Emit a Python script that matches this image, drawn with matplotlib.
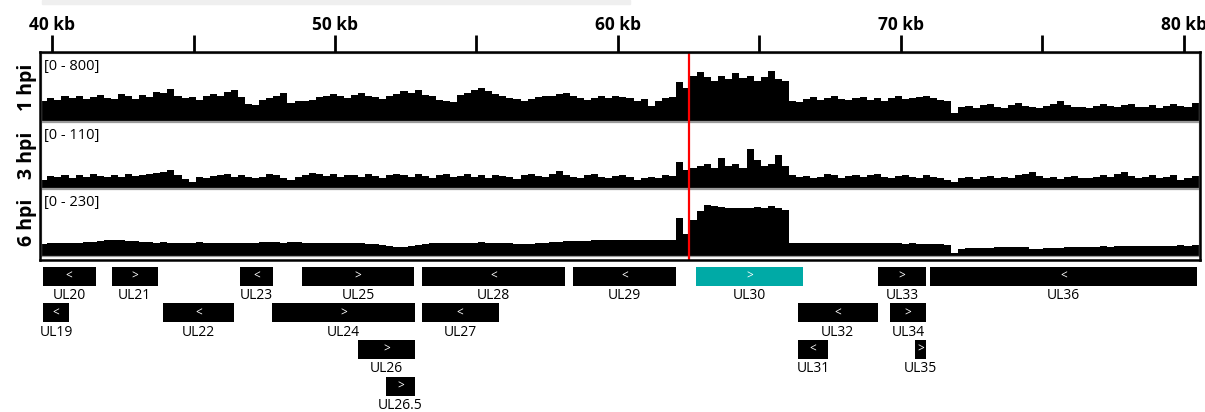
import matplotlib
matplotlib.use("Agg")
import matplotlib.pyplot as plt
from matplotlib.patches import Rectangle
import numpy as np

plt.rcParams['font.family'] = ['Open Sans', 'DejaVu Sans']

# ---- coverage tracks (0.25 kb bins starting at 39.55 kb) ----
bin_start = 39.55
bin_width = 0.25

cov_1hpi = [
    240, 265, 250, 290, 275, 300, 260, 285, 310, 270,
    255, 320, 295, 260, 305, 280, 340, 330, 380, 290,
    265, 280, 250, 300, 315, 290, 345, 360, 280, 200,
    190, 250, 275, 300, 330, 215, 230, 235, 245, 280,
    300, 320, 290, 270, 310, 335, 300, 280, 260, 300,
    320, 355, 330, 360, 310, 290, 250, 235, 220, 310,
    330, 370, 385, 350, 320, 300, 275, 255, 240, 260,
    280, 300, 290, 315, 330, 300, 270, 250, 265, 290,
    275, 300, 285, 265, 240, 260, 175, 240, 270, 285,
    460, 390, 530,
    575, 520, 470, 530, 495, 565, 505, 530, 470, 520, 590, 495, 470,
    240, 225, 260, 280, 250, 270, 295, 260, 245, 270, 285, 250,
    265, 240, 275, 290, 255, 265, 280, 300, 270, 250, 240,
    90,
    160, 175, 150, 185, 200, 170, 155, 190, 210, 180, 165, 150,
    175, 195, 230, 185, 160, 170, 150, 180, 200, 175, 165, 190,
    205, 170, 160, 185, 150, 175, 195, 180, 170, 210,
]

cov_3hpi = [
    14, 20, 18, 22, 17, 21, 19, 23, 20, 18,
    22, 19, 24, 20, 21, 23, 25, 27, 30, 21,
    15, 10, 18, 17, 20, 22, 24, 19, 21, 18,
    16, 19, 23, 21, 17, 14, 19, 22, 25, 23,
    20, 24, 19, 22, 21, 18, 23, 20, 17, 22,
    24, 21, 19, 23, 20, 16, 22, 24, 18, 20,
    23, 19, 21, 17, 22, 20, 18, 15, 21, 24,
    20, 18, 23, 29, 22, 19, 17, 21, 23, 18,
    16, 20, 22, 18, 14, 17, 19, 16, 21, 20,
    43, 30, 33,
    37, 40, 33, 50, 37, 40, 33, 65, 47, 37, 40, 55, 37,
    22, 18, 20, 16, 19, 23, 21, 17, 20, 22,
    18, 21, 24, 19, 17, 20, 22, 18, 16, 21,
    19, 17, 14, 10, 16, 19, 15, 18, 20, 17,
    19, 16, 21, 23, 27, 20, 17, 19, 15, 18,
    20, 17, 16, 19, 21, 18, 24, 26, 20, 17,
    19, 22, 16, 18, 21, 14, 17, 20,
]

cov_6hpi = [
    42, 44, 43, 45, 44, 46, 47, 48, 52, 55,
    56, 55, 53, 50, 48, 47, 46, 47, 46, 45,
    44, 46, 47, 45, 44, 46, 45, 43, 44, 45,
    46, 47, 48, 47, 46, 48, 47, 46, 45, 44,
    45, 46, 44, 43, 45, 44, 42, 40, 38, 35,
    32, 31, 35, 39, 42, 44, 45, 46, 45, 44,
    45, 46, 47, 46, 45, 44, 43, 42, 41, 42,
    44, 46, 48, 49, 50, 51, 52, 53, 54, 54,
    55, 54, 55, 56, 55, 54, 55, 56, 55, 54,
    132, 77, 122,
    155, 175, 172, 168, 165, 166, 164, 165, 167, 166, 170, 166, 158,
    46, 45, 46, 44, 45, 46, 45, 44, 45, 46, 44, 45,
    44, 43, 44, 43, 42, 43, 42, 41, 42, 40, 38,
    12,
    24, 26, 27, 28, 29, 30, 31, 30, 31, 30, 25, 25,
    26, 28, 29, 30, 31, 32, 31, 32, 33, 32, 33, 34,
    33, 34, 35, 34, 35, 36, 35, 37, 36, 38,
]

track_names = ['1 hpi', '3 hpi', '6 hpi']
track_ranges = ['[0 - 800]', '[0 - 110]', '[0 - 230]']
track_max = [800, 110, 230]

# ---- genes ----
gene_names = ['UL20', 'UL21', 'UL23', 'UL25', 'UL28', 'UL29', 'UL30', 'UL33', 'UL36',
              'UL19', 'UL22', 'UL24', 'UL27', 'UL32', 'UL34',
              'UL26', 'UL31', 'UL35', 'UL26.5']
gene_start = [39.67, 42.11, 46.64, 48.83, 53.07, 58.41, 62.76, 69.17, 71.04,
              39.67, 43.91, 47.79, 53.07, 66.36, 69.61,
              50.81, 66.36, 70.49, 51.80]
gene_end = [41.54, 43.73, 47.81, 52.79, 58.13, 62.04, 66.54, 70.90, 80.46,
            40.61, 46.43, 52.83, 55.78, 69.17, 70.90,
            52.83, 67.42, 70.90, 52.83]
gene_strand = ['<', '>', '<', '>', '<', '<', '>', '>', '<',
               '<', '<', '>', '<', '<', '>',
               '>', '<', '>', '>']
gene_row = [0, 0, 0, 0, 0, 0, 0, 0, 0,
            1, 1, 1, 1, 1, 1,
            2, 2, 2, 3]
highlight = 'UL30'

major_ticks = [40, 50, 60, 70, 80]
minor_ticks = [45, 55, 65, 75]
cut_site = 62.51

# ---- layout (pixels) ----
W, H = 1205, 412
def rect(x0, y0, x1, y1):
    return [x0 / W, 1 - y1 / H, (x1 - x0) / W, (y1 - y0) / H]

def kb_at(px):
    return 40 + (px - 52) / 28.3

xlim = (kb_at(40), kb_at(1200))

fig = plt.figure(figsize=(W / 100, H / 100), dpi=100)

# light gray strip at the very top
fig.patches.append(Rectangle((42 / W, 1 - 4 / H), (630 - 42) / W, 4 / H,
                             transform=fig.transFigure, color='#efefef', zorder=0))

edges = np.arange(len(cov_1hpi)) * bin_width + bin_start
tracks_y = [(53, 121), (122, 188), (189, 256)]
for (top, bot), name, rng, vmax, vals in zip(tracks_y, track_names, track_ranges,
                                             track_max, [cov_1hpi, cov_3hpi, cov_6hpi]):
    ax = fig.add_axes(rect(41, top, 1199, bot))
    ax.bar(edges, vals, width=bin_width, align='edge', color='black', linewidth=0)
    ax.set_xlim(xlim)
    ax.set_ylim(0, vmax)
    ax.set_xticks([])
    ax.set_yticks([])
    for s in ax.spines.values():
        s.set_color('#9a9a9a')
        s.set_linewidth(0.9)
    ax.text(0.003, 1 - 13.5 / (bot - top), rng, transform=ax.transAxes,
            ha='left', va='center', fontsize=10.5)
    fig.text(27 / W, 1 - ((top + bot) / 2) / H, name, rotation=90,
             ha='center', va='center', fontsize=14, fontweight='bold')

# outer frame with top ruler
frame = fig.add_axes(rect(40, 52, 1200, 260))
frame.patch.set_alpha(0)
frame.set_xlim(xlim)
frame.set_ylim(0, 1)
frame.set_yticks([])
frame.xaxis.tick_top()
frame.set_xticks(major_ticks)
frame.set_xticklabels([f'{t} kb' for t in major_ticks], fontsize=12.5, fontweight='bold')
frame.set_xticks(minor_ticks, minor=True)
frame.tick_params(axis='x', which='both', direction='out', length=12, width=2, pad=1)
for s in frame.spines.values():
    s.set_linewidth(1.8)
    s.set_color('black')
frame.axvline(cut_site, color='red', linewidth=1.6, ymin=0, ymax=0.99)

# gene annotation track
gax = fig.add_axes(rect(40, 262, 1200, 412))
gax.set_xlim(xlim)
gax.set_ylim(150, 0)
gax.axis('off')
row_pitch, box_h = 36.6, 19
for name, s, e, strand, row in zip(gene_names, gene_start, gene_end, gene_strand, gene_row):
    y0 = 4.8 + row * row_pitch
    col = '#00aaa6' if name == highlight else 'black'
    gax.add_patch(Rectangle((s, y0), e - s, box_h, facecolor=col, edgecolor='none'))
    gax.text((s + e) / 2, y0 + box_h / 2, strand, color='white', ha='center',
             va='center', fontsize=8.5)
    gax.text((s + e) / 2, y0 + box_h + 10, name, ha='center', va='center', fontsize=10)

fig.savefig('out.png', dpi=100)
